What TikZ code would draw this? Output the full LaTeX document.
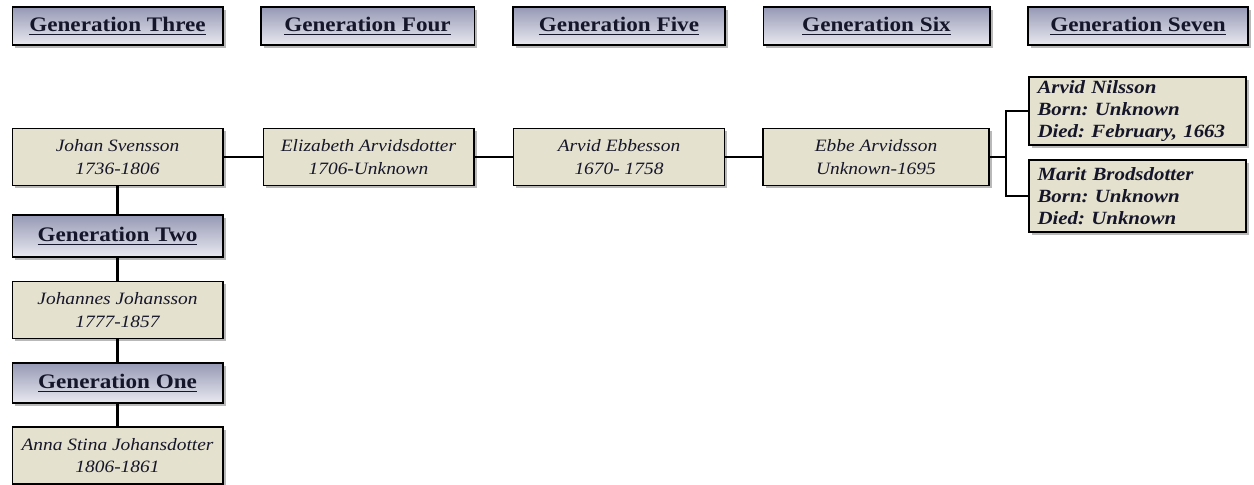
\documentclass[tikz,border=0pt]{standalone}
\usepackage{fontspec}
\setmainfont{Liberation Serif}[FakeStretch=1.12]
\usetikzlibrary{positioning,shadows}
\frenchspacing
\definecolor{hdtop}{HTML}{9699B5}
\definecolor{hdbot}{HTML}{E9E9F0}
\definecolor{perfill}{HTML}{E4E1CE}
\definecolor{ink}{HTML}{16162A}
\tikzset{
  gen/.style={draw,line width=1pt,top color=hdtop,bottom color=hdbot,
    minimum width=158pt,minimum height=28.5pt,inner sep=0pt,text=ink,
    font=\fontsize{15.5}{18}\selectfont\bfseries,
    drop shadow={shadow xshift=2pt,shadow yshift=-2pt,fill=black!55}},
  pers/.style={draw,line width=1pt,fill=perfill,
    minimum width=158pt,minimum height=42.75pt,inner sep=0pt,text=ink,
    align=center,font=\fontsize{13}{17}\selectfont\itshape,
    drop shadow={shadow xshift=2pt,shadow yshift=-2pt,fill=black!55}},
  anc/.style={pers,align=left,text width=150pt,inner xsep=6pt,
    minimum width=162.75pt,font=\fontsize{14}{16.5}\selectfont\bfseries\itshape},
  seg/.style={line width=1.6pt},
}
\begin{document}
\begin{tikzpicture}[x=0.75pt,y=-0.75pt]
  \useasboundingbox (0,0) rectangle (1254,485);
  % generation headers
  \node[gen] (g3) at (117.5,26) {\underline{Generation Three}};
  \node[gen,minimum width=160pt] (g4) at (367.5,26) {\underline{Generation Four}};
  \node[gen,minimum width=159pt] (g5) at (619,26) {\underline{Generation Five}};
  \node[gen,minimum width=170pt] (g6) at (876.5,26) {\underline{Generation Six}};
  \node[gen,minimum width=165pt] (g7) at (1138,26) {\underline{Generation Seven}};
  \node[gen,minimum height=31.5pt] (g2) at (117.5,236) {\underline{Generation Two}};
  \node[gen,minimum height=30pt] (g1) at (117.5,383) {\underline{Generation One}};
  % people
  \node[pers] (johan) at (117.5,157) {Johan Svensson\\1736-1806};
  \node[pers] (eliz) at (368.5,157) {Elizabeth Arvidsdotter\\1706-Unknown};
  \node[pers] (arvide) at (619,157) {Arvid Ebbesson\\1670- 1758};
  \node[pers,minimum width=169.5pt] (ebbe) at (876,157) {Ebbe Arvidsson\\Unknown-1695};
  \node[pers] (johannes) at (117.5,310) {Johannes Johansson\\1777-1857};
  \node[pers] (anna) at (117.5,455.5) {Anna Stina Johansdotter\\1806-1861};
  \node[anc,minimum height=51pt] (arvidn) at (1137.5,111) {Arvid Nilsson\\Born: Unknown\\Died: February, 1663};
  \node[anc,minimum height=54pt] (marit) at (1137.5,196) {Marit Brodsdotter\\Born: Unknown\\Died: Unknown};
  % links
  \draw[seg] (johan) -- (eliz);
  \draw[seg] (eliz) -- (arvide);
  \draw[seg] (arvide) -- (ebbe);
  \draw[seg] (johan) -- (g2);
  \draw[seg] (g2) -- (johannes);
  \draw[seg] (johannes) -- (g1);
  \draw[seg] (g1) -- (anna);
  \coordinate (brk) at (1006,157);
  \draw[seg] (ebbe) -- (brk);
  \draw[seg] (arvidn.west) -| (brk) |- (marit.west);
\end{tikzpicture}
\end{document}
